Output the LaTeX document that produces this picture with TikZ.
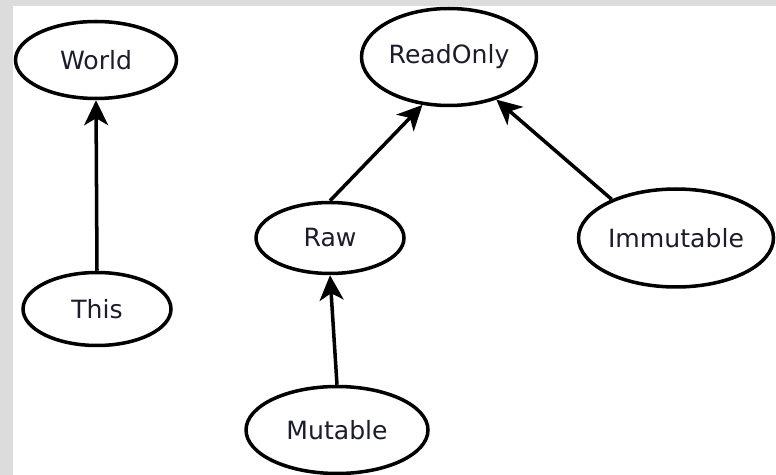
\documentclass[tikz,border=0pt]{standalone}
\usepackage{fontspec}
\setmainfont{DejaVu Sans}
\usetikzlibrary{shapes.geometric,arrows.meta}
\definecolor{framegrey}{HTML}{DCDCDC}
\definecolor{labelink}{HTML}{1C1C2A}

\begin{document}
\begin{tikzpicture}[
  x=0.02cm,
  y=-0.02cm,
  every node/.style={font=\fontsize{14.3}{16}\selectfont},
  kind/.style={draw, ellipse, line width=2pt, inner sep=0pt, text=labelink},
  inherits/.style={-{Stealth[length=0.5cm, width=0.48cm, inset=0.14cm]}, line width=2pt}
]
  \useasboundingbox (0,0) rectangle (776,475);
  \fill[framegrey] (0,0) rectangle (776,475);
  \fill[white] (13,6) rectangle (776,475);

  \node[kind, minimum width=3.22cm, minimum height=1.54cm] (world) at (96,60) {World};
  \node[kind, minimum width=2.96cm, minimum height=1.46cm] (this) at (97,309) {This};
  \node[kind, minimum width=3.5cm, minimum height=1.94cm] (readonly) at (449,57) {ReadOnly};
  \node[kind, minimum width=2.96cm, minimum height=1.42cm] (raw) at (330,238) {Raw};
  \node[kind, minimum width=3.9cm, minimum height=1.96cm] (immutable) at (676,238) {Immutable};
  \node[kind, minimum width=3.64cm, minimum height=1.74cm] (mutable) at (337,430) {Mutable};

  \draw[inherits] (this.north) -- (world.south);
  \draw[inherits] (raw.north) -- (readonly.-119);
  \draw[inherits] (immutable.149) -- (readonly.-42);
  \draw[inherits] (mutable.north) -- (raw.south);
\end{tikzpicture}
\end{document}
